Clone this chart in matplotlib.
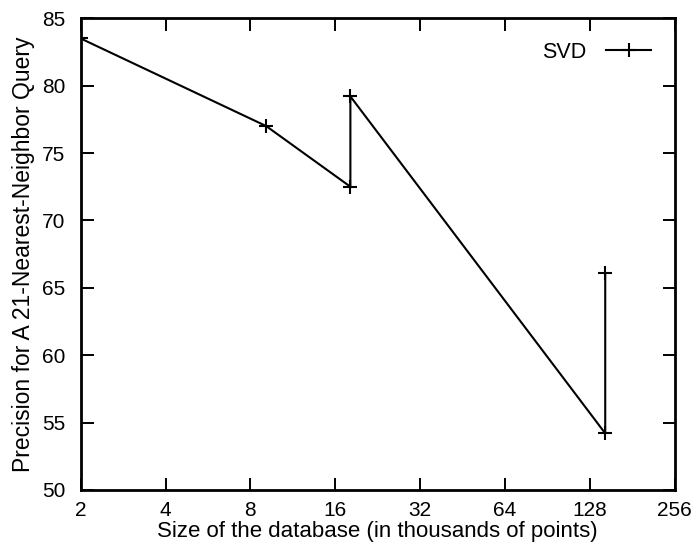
import numpy as np
import matplotlib.pyplot as plt
from matplotlib.ticker import FixedLocator, FixedFormatter, NullLocator

plt.rcParams['font.family'] = ['Liberation Sans', 'DejaVu Sans']

# valores
size_k = [2, 9.1, 18.1, 18.1, 145, 145]
precision = [83.5, 77.0, 72.5, 79.2, 54.2, 66.1]
xticks = [2, 4, 8, 16, 32, 64, 128, 256]
xlabels = ['2', '4', '8', '16', '32', '64', '128', '256']
yticks = [50, 55, 60, 65, 70, 75, 80, 85]

fig = plt.figure(figsize=(6.95, 5.46), dpi=100)
ax = fig.add_axes([0.116, 0.1026, 0.855, 0.864])

ax.plot(size_k, precision, color='black', lw=1.5, marker='+', ms=10, mew=1.5,
        label='SVD')

ax.set_xscale('log', base=2)
ax.set_xlim(2, 256)
ax.set_ylim(50, 85)
ax.xaxis.set_major_locator(FixedLocator(xticks))
ax.xaxis.set_major_formatter(FixedFormatter(xlabels))
ax.xaxis.set_minor_locator(NullLocator())
ax.set_yticks(yticks)

ax.tick_params(direction='in', length=9, width=1.4, top=True, right=True,
               labelsize=15)
ax.tick_params(axis='x', pad=8)
ax.tick_params(axis='y', pad=11)
for s in ax.spines.values():
    s.set_linewidth(2)

ax.set_xlabel('Size of the database (in thousands of points)', fontsize=16,
              labelpad=1)
ax.set_ylabel('Precision for A 21-Nearest-Neighbor Query', fontsize=16.5,
              labelpad=5)

leg = ax.legend(loc='upper right', frameon=False, fontsize=15.5,
                markerfirst=False, handlelength=2.1, handletextpad=0.9,
                borderaxespad=0.7)

fig.savefig('out.png', dpi=100)
